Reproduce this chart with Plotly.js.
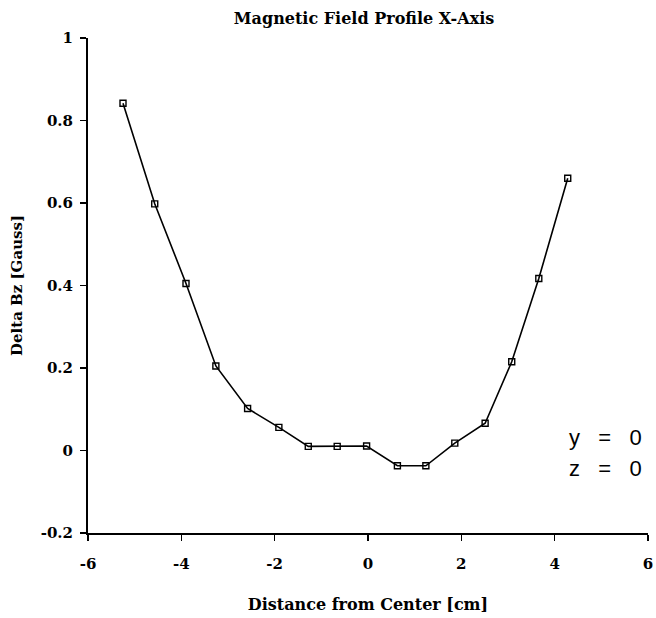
<!DOCTYPE html>
<html>
<head>
<meta charset="utf-8">
<script src="https://cdn.plot.ly/plotly-3.0.1.min.js"></script>
<style>html,body{margin:0;padding:0;background:#fff;}#chart{width:656px;height:618px;}</style>
</head>
<body>
<div id="chart"></div>
<script>
// Data
const distanceCm = [-5.25, -4.57, -3.90, -3.26, -2.58, -1.91, -1.28, -0.66, -0.03, 0.63, 1.24, 1.86, 2.51, 3.08, 3.66, 4.28];
const deltaBz    = [0.842, 0.598, 0.405, 0.205, 0.102, 0.056, 0.010, 0.010, 0.011, -0.037, -0.037, 0.018, 0.066, 0.215, 0.417, 0.660];
const xTickVals = [-6, -4, -2, 0, 2, 4, 6];
const xTickText = ['-6', '-4', '-2', '0', '2', '4', '6'];
const yTickVals = [-0.2, 0, 0.2, 0.4, 0.6, 0.8, 1];
const yTickText = ['-0.2', '0', '0.2', '0.4', '0.6', '0.8', '1'];

const serif = 'DejaVu Serif, Liberation Serif, serif';
const sans = 'Liberation Sans, Arial, sans-serif';

const trace = {
  x: distanceCm,
  y: deltaBz,
  type: 'scatter',
  mode: 'lines+markers',
  line: {color: '#000', width: 1.6},
  marker: {symbol: 'square-open', size: 6, color: '#000', line: {width: 1.4, color: '#000'}},
  showlegend: false,
  hoverinfo: 'x+y'
};

const layout = {
  width: 656,
  height: 618,
  margin: {l: 88, r: 8, t: 38, b: 85},
  paper_bgcolor: '#fff',
  plot_bgcolor: '#fff',
  title: {
    text: '<b>Magnetic Field Profile X-Axis</b>',
    font: {family: serif, size: 16, color: '#000'},
    x: 0.493, xref: 'paper', xanchor: 'center',
    y: 0.97, yref: 'container', yanchor: 'middle'
  },
  xaxis: {
    range: [-6, 6],
    tickmode: 'array', tickvals: xTickVals, ticktext: xTickText,
    ticks: 'outside', ticklen: 6, tickwidth: 1.5, tickcolor: '#000',
    ticklabelstandoff: 10,
    showline: true, linecolor: '#000', linewidth: 2,
    showgrid: false, zeroline: false,
    tickfont: {family: serif, size: 15, color: '#000', weight: 'bold'},
    title: {text: '<b>Distance from Center [cm]</b>', font: {family: serif, size: 16, color: '#000'}, standoff: 27}
  },
  yaxis: {
    range: [-0.2, 1],
    tickmode: 'array', tickvals: yTickVals, ticktext: yTickText,
    ticks: 'outside', ticklen: 6, tickwidth: 1.5, tickcolor: '#000',
    ticklabelstandoff: 4,
    showline: true, linecolor: '#000', linewidth: 2,
    showgrid: false, zeroline: false,
    tickfont: {family: serif, size: 15, color: '#000', weight: 'bold'},
    title: {text: '<b>Delta Bz [Gauss]</b>', font: {family: serif, size: 15, color: '#000'}, standoff: 14}
  },
  annotations: [
    {text: 'y&nbsp;&nbsp;&nbsp;=&nbsp;&nbsp;&nbsp;0', xref: 'paper', yref: 'paper', x: 0.993, y: 0.193, xanchor: 'right', yanchor: 'middle',
     showarrow: false, font: {family: sans, size: 22, color: '#000'}},
    {text: 'z&nbsp;&nbsp;&nbsp;=&nbsp;&nbsp;&nbsp;0', xref: 'paper', yref: 'paper', x: 0.993, y: 0.131, xanchor: 'right', yanchor: 'middle',
     showarrow: false, font: {family: sans, size: 22, color: '#000'}}
  ]
};

Plotly.newPlot('chart', [trace], layout, {displayModeBar: false, staticPlot: true});
</script>
</body>
</html>
